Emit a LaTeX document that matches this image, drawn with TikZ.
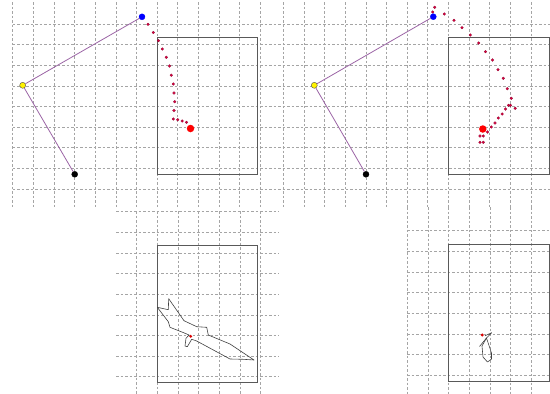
\documentclass[tikz,border=0pt]{standalone}
\usetikzlibrary{positioning}

\definecolor{linkpurple}{RGB}{155,100,165}
\definecolor{trailred}{RGB}{215,0,60}
\definecolor{gridgray}{RGB}{165,165,165}

\begin{document}
\begin{tikzpicture}[
  x=1pt, y=-1pt,
  gridline/.style={gridgray, line width=0.6pt, dash pattern=on 2.5pt off 2pt},
  frame/.style={draw=black!65, line width=1pt},
  link/.style={linkpurple, line width=0.8pt},
  joint/.style={circle, draw, inner sep=0pt, minimum size=6pt},
  trail/.style={circle, fill=trailred, draw=purple!70!black, line width=0.2pt,
                inner sep=0pt, minimum size=2.8pt},
  goal/.style={circle, fill=red, inner sep=0pt, minimum size=7.5pt},
  probe/.style={circle, fill=red!85!black, inner sep=0pt, minimum size=3.2pt},
  outline/.style={draw=black!75, line width=0.6pt, line join=round}
]
\useasboundingbox (0,0) rectangle (550,394);

% grids, top row
\foreach \k in {0,...,12} {
  \draw[gridline] ({12.7+20.63*\k},2) -- ({12.7+20.63*\k},207);
  \draw[gridline] ({283.3+20.63*\k},2) -- ({283.3+20.63*\k},207);
}
\foreach \k in {0,...,8}
  \draw[gridline] (12.7,{24+20.63*\k}) -- (550,{24+20.63*\k});

% grids, bottom row
\foreach \k in {0,...,8}
  \draw[gridline] (116,{211.7+20.63*\k}) -- (279,{211.7+20.63*\k});
\foreach \k in {0,...,6}
  \draw[gridline] ({136.7+20.63*\k},211) -- ({136.7+20.63*\k},394);
\foreach \k in {0,...,7}
  \draw[gridline] (407,{230.7+20.63*\k}) -- (550,{230.7+20.63*\k});
\foreach \k in {0,...,6}
  \draw[gridline] ({407.3+20.63*\k},207) -- ({407.3+20.63*\k},394);

% frames
\draw[frame] (157.3,37.3) rectangle (257.3,174.7);
\draw[frame] (448.5,37.3) rectangle (549.3,174.7);
\draw[frame] (157.3,245.3) rectangle (257.7,382.3);
\draw[frame] (448.7,244) rectangle (549.3,381.3);

% left arm
\foreach \p in {(148,24.3),(153.3,32.5),(158.5,40.7),(162.3,49),(166.3,57.3),
                (169.5,66),(171.3,75.2),(173.3,84),(174,93),(174.7,101.7),
                (174,110.5),(173.3,119),(177.7,119.7),(182.2,121),(186.5,122.3)}
  \node[trail] at \p {};
\node[goal] (goalL) at (190.5,128.5) {};
\node[joint, fill=black] (baseL) at (74.7,174.3) {};
\node[joint, fill=yellow, draw=black!70] (elbowL) at (22.7,85.3) {};
\node[joint, fill=blue, draw=blue] (tipL) at (142,16.8) {};
\draw[link] (baseL) -- (elbowL);
\draw[link] (elbowL) -- (tipL);

% right arm
\foreach \p in {(434.7,7.3),(432.7,12),(444.3,14),(454,20.3),(462,27.7),
                (470.3,35),(478.7,43),(485.5,51.7),(492.5,60),(498,69.7),
                (503.3,78.3),(507.3,88.7),(511.3,98.3),(515.2,108.3),(508.5,105.3),
                (510.5,105.3),(505.5,109),(502.2,114),(498.3,118),(495,123),
                (491.3,127),(487.5,132),(483.3,136),(480,136),(480,142.3),(483.3,142.3)}
  \node[trail] at \p {};
\node[goal] (goalR) at (482.8,129) {};
\node[joint, fill=black] (baseR) at (366,174.3) {};
\node[joint, fill=yellow, draw=black!70] (elbowR) at (314.3,85.3) {};
\node[joint, fill=blue, draw=blue] (tipR) at (433.3,16.7) {};
\draw[link] (baseR) -- (elbowR);
\draw[link] (elbowR) -- (tipR);

% bottom left trace
\draw[outline] (168.7,298.7) -- (184,320.7) -- (196.7,326.7) -- (206.7,327.3)
  -- (208.3,335) -- (230,344) -- (254,360) -- (243.3,359.3) -- (230,359)
  -- (196.7,341) -- (191.7,339.3) -- (187.3,346.7) -- (185,346) -- (186,338.3)
  -- (189,335) -- (182.7,332.3) -- (170,327.3) -- (168.3,321.7) -- (157.3,307.3)
  -- (168.3,309.7) -- cycle;
\node[probe] (probeL) at (190.7,336.3) {};

% bottom right trace
\draw[outline] (479.5,346.5) -- (486.5,338) -- (491.7,332.7) -- (485,335.8);
\draw[outline] (486.5,338) -- (491.5,353) -- (491.5,359) -- (487.5,362)
  -- (483,357) -- (482,346) -- cycle;
\node[probe] (probeR) at (482.3,335) {};

\end{tikzpicture}
\end{document}
